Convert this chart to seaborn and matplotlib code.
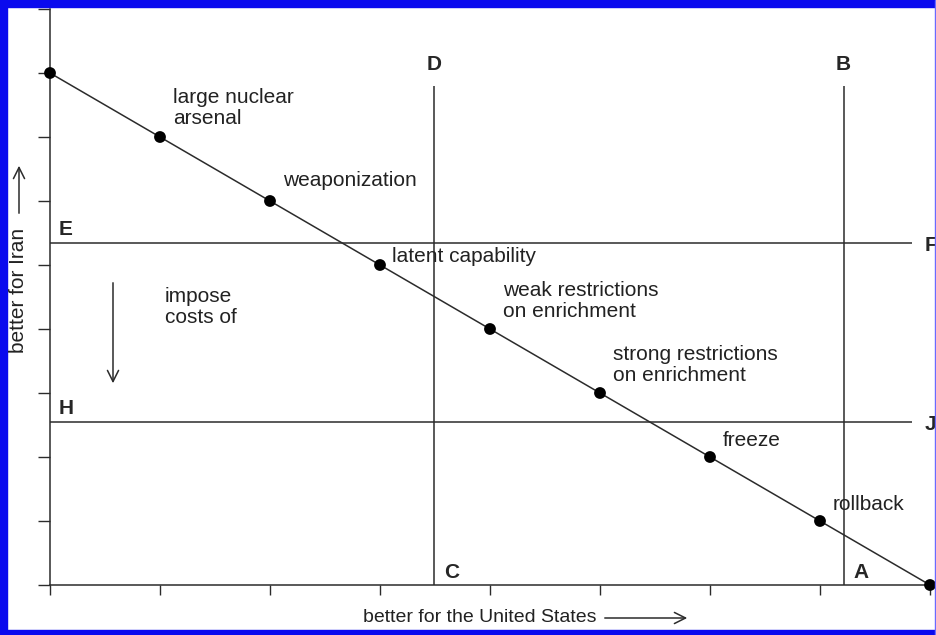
import matplotlib
matplotlib.use('Agg')
import matplotlib.pyplot as plt
from matplotlib.patches import Rectangle
import seaborn as sns

# outcomes along the bargaining frontier (x: better for US, y: better for Iran)
us_value = [0, 1, 2, 3, 4, 5, 6, 7, 8]
iran_value = [8, 7, 6, 5, 4, 3, 2, 1, 0]
outcome_labels = ['', 'large nuclear\narsenal', 'weaponization', 'latent capability',
                  'weak restrictions\non enrichment', 'strong restrictions\non enrichment',
                  'freeze', 'rollback', '']

# reservation lines
us_lines = [3.49, 7.215]          # C-D, A-B
us_line_names = [('C', 'D'), ('A', 'B')]
us_line_top = 7.8
iran_lines = [5.34, 2.54]         # E-F, H-J
iran_line_names = [('E', 'F'), ('H', 'J')]
iran_line_end = 7.84

x_ticks = list(range(0, 9))
y_ticks = list(range(0, 10))

sns.set_style('ticks')
plt.rcParams['font.family'] = ['Liberation Sans', 'DejaVu Sans']

W, H = 937, 635
fig = plt.figure(figsize=(W / 100, H / 100), dpi=100)
ax = fig.add_axes([50 / W, 50 / H, 880 / W, 576 / H])

ink = '#2b2b2b'
sns.lineplot(x=us_value, y=iran_value, ax=ax, color=ink, lw=1.1)
sns.scatterplot(x=us_value, y=iran_value, ax=ax, color='black', s=72,
                edgecolor='none', clip_on=False, zorder=5)

for xv, (lo, hi) in zip(us_lines, us_line_names):
    ax.vlines(xv, 0, us_line_top, color=ink, lw=1.1)
    ax.text(xv, us_line_top + 0.33, hi, ha='center', va='center',
            fontsize=15, fontweight='bold')
    ax.text(xv + 0.09, 0.2, lo, ha='left', va='center',
            fontsize=15, fontweight='bold')

for yv, (left, right) in zip(iran_lines, iran_line_names):
    ax.hlines(yv, 0, iran_line_end, color=ink, lw=1.1)
    ax.text(0.08, yv + 0.22, left, ha='left', va='center',
            fontsize=15, fontweight='bold', clip_on=False)
    ax.text(iran_line_end + 0.11, yv - 0.03, right, ha='left', va='center',
            fontsize=15, fontweight='bold', clip_on=False)

# label offsets in pixels (dx, dy) from each point
offsets = [(0, 0), (13, 29), (13, 21), (12, 9), (13, 28), (13, 28), (13, 17), (13, 17), (0, 0)]
for xv, yv, lab, (dx, dy) in zip(us_value, iran_value, outcome_labels, offsets):
    if lab:
        ax.annotate(lab, (xv, yv), xytext=(dx, dy), textcoords='offset pixels',
                    ha='left', va='center', fontsize=15, color='#222222',
                    linespacing=1.17)

ax.set_xlim(0, 8)
ax.set_ylim(0, 9)
ax.set_xticks(x_ticks)
ax.set_yticks(y_ticks)
ax.set_xticklabels([])
ax.set_yticklabels([])
ax.tick_params(axis='x', length=7, width=1, color=ink)
ax.tick_params(axis='y', length=8.5, width=1, color=ink)
sns.despine(ax=ax)
for side in ['left', 'bottom']:
    ax.spines[side].set_color(ink)
    ax.spines[side].set_linewidth(1.1)

# axis captions with arrows
fig.text(363 / W, 1 - 618 / H, 'better for the United States', ha='left', va='center',
         fontsize=14, color='#222222')
ax.annotate('', xy=(690, H - 618), xytext=(602, H - 618), xycoords='figure pixels',
            textcoords='figure pixels', annotation_clip=False,
            arrowprops=dict(arrowstyle='->', lw=1.1, color=ink, mutation_scale=20))
fig.text(19 / W, 1 - 290 / H, 'better for Iran', ha='center', va='center',
         rotation=90, fontsize=15, color='#222222')
ax.annotate('', xy=(19, H - 163), xytext=(19, H - 216), xycoords='figure pixels',
            textcoords='figure pixels', annotation_clip=False,
            arrowprops=dict(arrowstyle='->', lw=1.1, color=ink, mutation_scale=20))

fig.text(165 / W, 1 - 307 / H, 'impose\ncosts of', ha='left', va='center',
         fontsize=15, color='#222222', linespacing=1.17)
ax.annotate('', xy=(113, H - 386), xytext=(113, H - 280), xycoords='figure pixels',
            textcoords='figure pixels', annotation_clip=False,
            arrowprops=dict(arrowstyle='->', lw=1.1, color=ink, mutation_scale=20))

# blue frame
blue = '#0a0aee'
fig.add_artist(Rectangle((0, 1 - 7 / H), 1, 7 / H, transform=fig.transFigure, color=blue))
fig.add_artist(Rectangle((0, 0), 7 / W, 1, transform=fig.transFigure, color=blue))
fig.add_artist(Rectangle((0, 0), 1, 5 / H, transform=fig.transFigure, color=blue))
fig.add_artist(Rectangle((1 - 2 / W, 0), 2 / W, 1, transform=fig.transFigure, color='#6a6aff'))

fig.savefig('out.png', dpi=100)
